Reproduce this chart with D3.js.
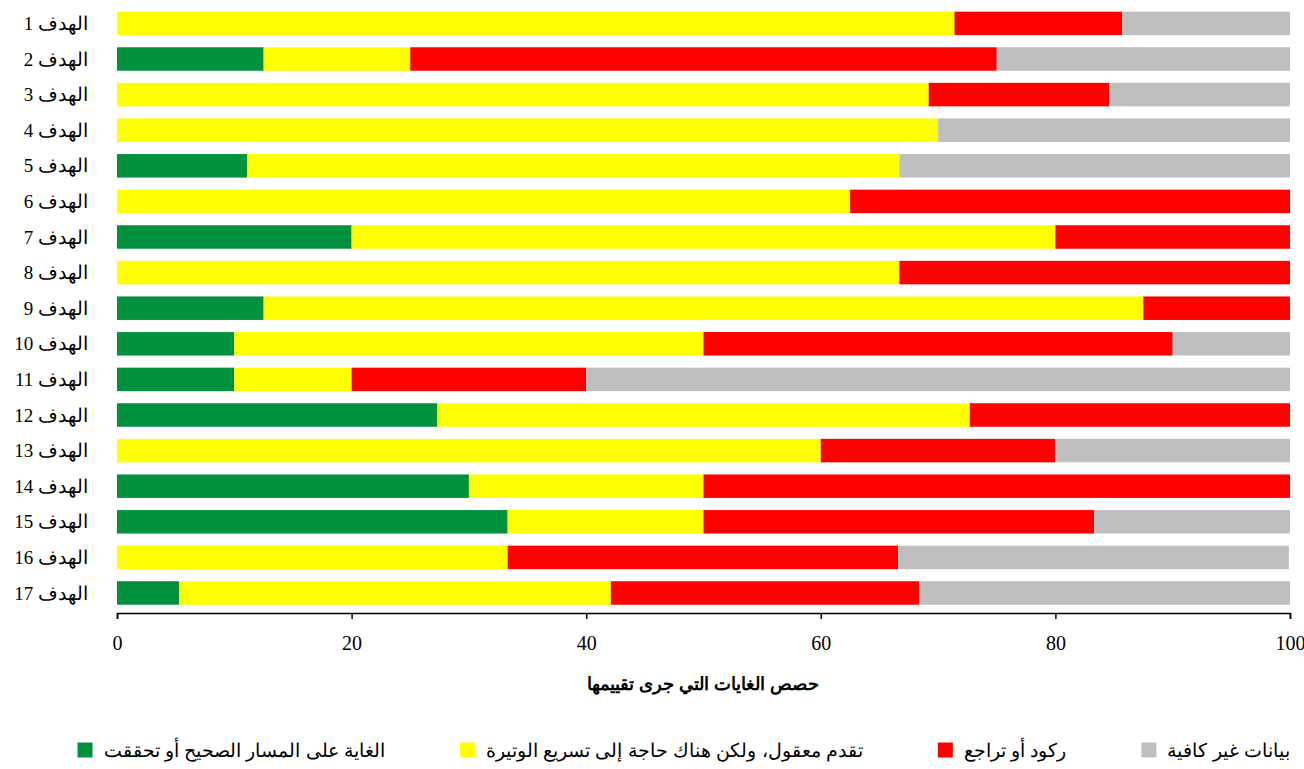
<!DOCTYPE html>
<html>
<head>
<meta charset="utf-8">
<script src="https://cdn.jsdelivr.net/npm/d3@7"></script>
<style>
  body { margin: 0; background: #fff; }
  svg { display: block; }
</style>
</head>
<body>
<div id="chart"></div>
<script>
// goals (top to bottom)
var goals = ["1","2","3","4","5","6","7","8","9","10","11","12","13","14","15","16","17"];

// series shares (percent of assessed targets)
var onTrack    = [0, 12.5, 0, 0, 11.1, 0, 20, 0, 12.5, 10, 10, 27.3, 0, 30, 33.3, 0, 5.3];
var moderate   = [71.4, 12.5, 69.2, 70, 55.6, 62.5, 60, 66.7, 75, 40, 10, 45.4, 60, 20, 16.7, 33.3, 36.8];
var stagnation = [14.3, 50, 15.4, 0, 0, 37.5, 20, 33.3, 12.5, 40, 20, 27.3, 20, 50, 33.3, 33.3, 26.3];
var noData     = [14.3, 25, 15.4, 30, 33.3, 0, 0, 0, 0, 10, 60, 0, 20, 0, 16.7, 33.3, 31.6];

var seriesNames = [
  "الغاية على المسار الصحيح أو تحققت",
  "تقدم معقول، ولكن هناك حاجة إلى تسريع الوتيرة",
  "ركود أو تراجع",
  "بيانات غير كافية"
];
var seriesColors = ["#00913f", "#ffff00", "#ff0000", "#bfbfbf"];
var xTicks = [0, 20, 40, 60, 80, 100];

var W = 1304, H = 769;
var svg = d3.select("#chart").append("svg").attr("width", W).attr("height", H);

var x = d3.scaleLinear().domain([0, 100]).range([117, 1290]);
var y = d3.scaleBand().domain(goals).range([5.6, 610.8]).paddingInner(0.34).paddingOuter(0.17);

var keys = ["a","b","c","d"];
var rows = goals.map(function(g, i) {
  return { goal: g, a: onTrack[i], b: moderate[i], c: stagnation[i], d: noData[i] };
});
var stack = d3.stack().keys(keys)(rows);

svg.append("g").selectAll("g")
  .data(stack).join("g")
  .attr("fill", function(d, i) { return seriesColors[i]; })
  .selectAll("rect")
  .data(function(d) { return d; }).join("rect")
  .attr("x", function(d) { return x(d[0]); })
  .attr("y", function(d) { return y(d.data.goal); })
  .attr("width", function(d) { return Math.max(0, x(d[1]) - x(d[0])); })
  .attr("height", y.bandwidth());

// category labels
svg.append("g").selectAll("text")
  .data(goals).join("text")
  .attr("x", 88)
  .attr("y", function(d) { return y(d) + y.bandwidth() / 2; })
  .attr("dy", "0.35em")
  .attr("text-anchor", "end")
  .style("font-family", "'Liberation Serif', 'Times New Roman', serif")
  .style("font-size", "19px")
  .text(function(d) { return "\u202B" + "الهدف " + d + "\u202C"; });

// x axis
var xAxis = svg.append("g")
  .attr("transform", "translate(0,613)")
  .call(d3.axisBottom(x).tickValues(xTicks).tickSize(6).tickPadding(17).tickFormat(d3.format("d")));
xAxis.select(".domain").attr("stroke", "#000").attr("stroke-width", 1.5);
xAxis.selectAll(".tick line").attr("stroke", "#000").attr("stroke-width", 1.5);
xAxis.selectAll(".tick text")
  .style("font-family", "'Liberation Serif', 'Times New Roman', serif")
  .style("font-size", "20px")
  .attr("fill", "#000");

svg.append("text")
  .attr("x", 703)
  .attr("y", 690)
  .attr("text-anchor", "middle")
  .style("font-family", "'Liberation Sans', Arial, sans-serif")
  .style("font-size", "18px")
  .style("font-weight", "bold")
  .text("حصص الغايات التي جرى تقييمها");

// legend, laid out right to left
var legend = svg.append("g");
var right = 1290, ly = 750;
for (var i = seriesNames.length - 1; i >= 0; i--) {
  var t = legend.append("text")
    .attr("x", right)
    .attr("y", ly)
    .attr("dy", "0.35em")
    .attr("text-anchor", "end")
    .style("font-family", "'Liberation Sans', Arial, sans-serif")
    .style("font-size", "19px")
    .text(seriesNames[i]);
  var tw = t.node().getComputedTextLength();
  legend.append("rect")
    .attr("x", right - tw - 11 - 15)
    .attr("y", ly - 7.5)
    .attr("width", 15)
    .attr("height", 15)
    .attr("fill", seriesColors[i]);
  right = right - tw - 11 - 15 - 75;
}
</script>
</body>
</html>
